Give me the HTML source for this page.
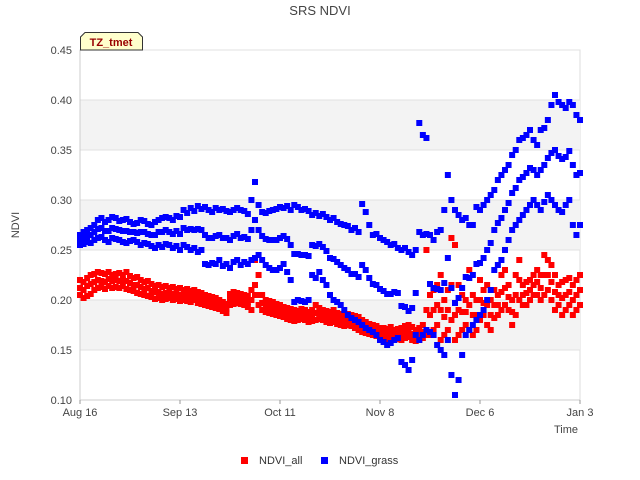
<!DOCTYPE html>
<html><head><meta charset="utf-8"><style>
body{margin:0;background:#fff;font-family:"Liberation Sans",sans-serif;}
svg{display:block}
</style></head><body>
<svg id="chart" width="640" height="480" xmlns="http://www.w3.org/2000/svg">
<text x="320" y="15" text-anchor="middle" font-size="13" fill="#444">SRS NDVI</text>
<g id="bands"></g>
<g id="grid"></g>
<g id="yticks"></g>
<g id="xticks"></g>
<g id="marks"></g>
<text transform="translate(19,225) rotate(-90)" text-anchor="middle" font-size="11" fill="#444">NDVI</text>
<text x="578" y="433" text-anchor="end" font-size="11" fill="#444">Time</text>
<g>
<path d="M80.5,50 L80.5,37 L85,32.5 L138,32.5 L142.5,37 L142.5,50 Z" fill="#ffffcc" stroke="#333" stroke-width="1"/>
<text x="111" y="46" text-anchor="middle" font-size="11" font-weight="bold" fill="#990000">TZ_tmet</text>
</g>
<g>
<g><rect x="241" y="457" width="7" height="7" fill="#ff0000"/><text x="259" y="464" font-size="11" fill="#333">NDVI_all</text></g>
<g><rect x="321" y="457" width="7" height="7" fill="#0000ff"/><text x="339" y="464" font-size="11" fill="#333">NDVI_grass</text></g>
</g>
</svg>
<script>
const yTicks=[0.10,0.15,0.20,0.25,0.30,0.35,0.40,0.45];
const yTickLabels=["0.10","0.15","0.20","0.25","0.30","0.35","0.40","0.45"];
const xTickDays=[0,28,56,84,112,140];
const xTickLabels=["Aug 16","Sep 13","Oct 11","Nov 8","Dec 6","Jan 3"];
const allHi=[.220,.218,.222,.225,.226,.228,.227,.226,.228,.225,.226,.227,.225,.228,.224,.222,.223,.220,.218,.219,.216,.214,.215,.213,.214,.212,.213,.211,.212,.210,.211,.209,.210,.208,.207,.205,.204,.203,.202,.200,.198,.196,.206,.208,.207,.206,.205,.204,.210,.240,.225,.205,.200,.199,.198,.196,.195,.193,.192,.191,.190,.189,.191,.190,.188,.190,.195,.192,.190,.189,.188,.190,.187,.186,.185,.186,.185,.184,.183,.180,.178,.176,.175,.174,.172,.172,.171,.173,.170,.171,.172,.174,.175,.173,.170,.172,.175,.250,.205,.210,.215,.225,.200,.210,.262,.255,.215,.205,.200,.230,.205,.200,.220,.210,.215,.200,.210,.205,.225,.230,.215,.200,.225,.240,.215,.218,.220,.225,.230,.225,.245,.240,.235,.225,.215,.218,.220,.222,.215,.220,.225];
const allMid=[.212,.210,.214,.216,.218,.220,.219,.218,.221,.219,.220,.219,.220,.219,.217,.215,.215,.213,.211,.212,.209,.208,.208,.206,.207,.207,.206,.206,.205,.205,.205,.203,.205,.202,.201,.200,.199,.198,.197,.195,.193,.191,.200,.202,.202,.201,.200,.198,.200,.215,.205,.197,.194,.193,.192,.190,.189,.188,.186,.185,.184,.184,.186,.185,.183,.184,.187,.186,.185,.183,.182,.184,.181,.180,.179,.180,.179,.178,.176,.174,.172,.171,.170,.169,.167,.167,.166,.168,.165,.166,.166,.168,.169,.166,.164,.166,.168,.190,.185,.190,.195,.190,.183,.190,.215,.185,.190,.188,.188,.195,.185,.185,.200,.197,.195,.185,.195,.195,.208,.212,.203,.188,.205,.220,.205,.207,.210,.215,.218,.212,.225,.225,.218,.208,.205,.202,.205,.208,.200,.205,.210];
const allLo=[.205,.202,.204,.206,.210,.212,.213,.211,.214,.212,.213,.212,.214,.211,.210,.209,.207,.206,.205,.204,.203,.201,.202,.200,.201,.202,.200,.201,.199,.200,.199,.198,.200,.197,.196,.195,.194,.193,.192,.191,.189,.187,.195,.196,.197,.196,.195,.193,.190,.205,.195,.190,.188,.187,.186,.185,.184,.183,.181,.180,.179,.180,.181,.180,.178,.179,.180,.181,.180,.178,.177,.178,.176,.175,.174,.175,.174,.172,.170,.168,.167,.166,.165,.164,.163,.162,.161,.163,.160,.161,.160,.162,.163,.160,.159,.160,.162,.165,.165,.170,.175,.160,.165,.170,.180,.160,.165,.170,.175,.170,.165,.170,.180,.185,.175,.170,.182,.185,.190,.195,.190,.175,.185,.200,.195,.195,.200,.205,.205,.200,.205,.210,.200,.190,.195,.185,.190,.195,.185,.190,.195];
const grassHi=[.265,.268,.270,.272,.275,.280,.282,.278,.280,.283,.282,.279,.280,.281,.278,.276,.277,.280,.279,.276,.275,.278,.280,.282,.283,.282,.280,.284,.283,.290,.287,.292,.289,.294,.291,.293,.290,.288,.292,.290,.291,.289,.288,.290,.292,.290,.289,.286,.300,.318,.295,.288,.287,.289,.290,.291,.293,.292,.294,.290,.295,.293,.290,.291,.289,.285,.287,.284,.286,.283,.280,.282,.278,.276,.275,.274,.270,.272,.268,.296,.288,.275,.265,.266,.262,.260,.258,.255,.256,.252,.250,.252,.248,.245,.250,.377,.365,.362,.265,.260,.268,.270,.290,.325,.300,.290,.285,.280,.282,.275,.275,.293,.290,.295,.300,.305,.310,.320,.325,.330,.335,.345,.350,.360,.362,.365,.370,.360,.355,.370,.372,.380,.395,.405,.398,.395,.392,.398,.395,.385,.380];
const grassMid=[.260,.262,.264,.265,.268,.271,.272,.269,.269,.272,.271,.270,.269,.269,.268,.268,.267,.268,.268,.266,.265,.265,.268,.268,.270,.268,.266,.269,.266,.272,.270,.271,.270,.271,.270,.265,.262,.262,.264,.265,.262,.262,.260,.264,.266,.262,.263,.261,.270,.280,.270,.264,.261,.260,.260,.260,.262,.264,.261,.255,.246,.246,.245,.245,.244,.255,.254,.256,.253,.249,.242,.241,.238,.235,.232,.230,.226,.226,.223,.235,.230,.222,.216,.215,.211,.209,.206,.206,.208,.207,.194,.193,.189,.192,.207,.268,.265,.266,.216,.212,.211,.210,.217,.242,.212,.197,.202,.212,.223,.222,.225,.236,.237,.242,.250,.257,.270,.277,.282,.290,.297,.307,.312,.320,.323,.327,.332,.330,.325,.330,.335,.342,.347,.350,.344,.341,.343,.349,.335,.325,.327];
const grassLo=[.255,.256,.258,.257,.260,.262,.263,.260,.258,.262,.261,.260,.258,.257,.259,.260,.258,.255,.257,.256,.254,.252,.255,.253,.256,.255,.252,.254,.250,.255,.253,.250,.252,.248,.250,.236,.235,.237,.236,.240,.234,.236,.232,.238,.240,.235,.238,.236,.240,.242,.245,.240,.235,.232,.230,.230,.232,.236,.228,.220,.198,.200,.199,.198,.200,.225,.222,.228,.220,.215,.205,.200,.198,.195,.190,.185,.182,.180,.178,.175,.172,.170,.168,.165,.160,.158,.155,.157,.160,.162,.138,.135,.130,.140,.165,.160,.165,.170,.168,.165,.155,.150,.145,.160,.125,.105,.120,.145,.165,.170,.175,.180,.185,.190,.200,.210,.230,.235,.240,.250,.260,.270,.275,.280,.285,.290,.295,.300,.295,.290,.298,.305,.300,.295,.290,.288,.295,.300,.275,.265,.275];

const X0=80,X1=580,Y0=400,Y1=50,DMAX=140,VMIN=0.10,VMAX=0.45;
const xs=d=>X0+(d/DMAX)*(X1-X0);
const ys=v=>Y0-(v-VMIN)/(VMAX-VMIN)*(Y0-Y1);
const NS="http://www.w3.org/2000/svg";
function mk(tag,attrs,parent){const e=document.createElementNS(NS,tag);for(const k in attrs)e.setAttribute(k,attrs[k]);parent.appendChild(e);return e;}
const bands=document.getElementById('bands'),grid=document.getElementById('grid'),yt=document.getElementById('yticks'),xt=document.getElementById('xticks'),marks=document.getElementById('marks');
mk('rect',{x:X0,y:Y1,width:X1-X0,height:Y0-Y1,fill:'#fff',stroke:'#ddd'},bands);
for(let i=1;i<yTicks.length-1;i+=2){
 const r=mk('rect',{x:X0,y:ys(yTicks[i+1]),width:X1-X0,height:ys(yTicks[i])-ys(yTicks[i+1]),fill:'#f3f3f3'},bands);
 
 
}
yTicks.forEach((v,i)=>{
 const l=mk('line',{x1:X0,x2:X1,y1:ys(v),y2:ys(v),stroke:'#e0e0e0'},grid);
 
 
 const t=mk('text',{x:X0-8,y:ys(v)+4,'text-anchor':'end','font-size':11,fill:'#444'},yt);
 t.textContent=yTickLabels[i];
 
 
});
mk('line',{x1:X0,x2:X0,y1:Y1,y2:Y0,stroke:'#ccc'},grid);
mk('line',{x1:X0,x2:X1,y1:Y0,y2:Y0,stroke:'#ccc'},grid);
xTickDays.forEach((d,i)=>{
 mk('line',{x1:xs(d),x2:xs(d),y1:Y0,y2:Y0+4,stroke:'#999'},xt);
 const t=mk('text',{x:xs(d),y:Y0+16,'text-anchor':'middle','font-size':11,fill:'#444'},xt);
 t.textContent=xTickLabels[i];
 
 
});
function plot(arr,color,name){
 arr.forEach((v,d)=>{
  const r=mk('rect',{x:xs(d)-3,y:ys(v)-3,width:6,height:6,fill:color},marks);
  
  
 });
}
plot(allHi,'#ff0000','ndvi-all-point');
plot(allMid,'#ff0000','ndvi-all-point');
plot(allLo,'#ff0000','ndvi-all-point');
plot(grassHi,'#0000ff','ndvi-grass-point');
plot(grassMid,'#0000ff','ndvi-grass-point');
plot(grassLo,'#0000ff','ndvi-grass-point');
</script>
</body></html>
